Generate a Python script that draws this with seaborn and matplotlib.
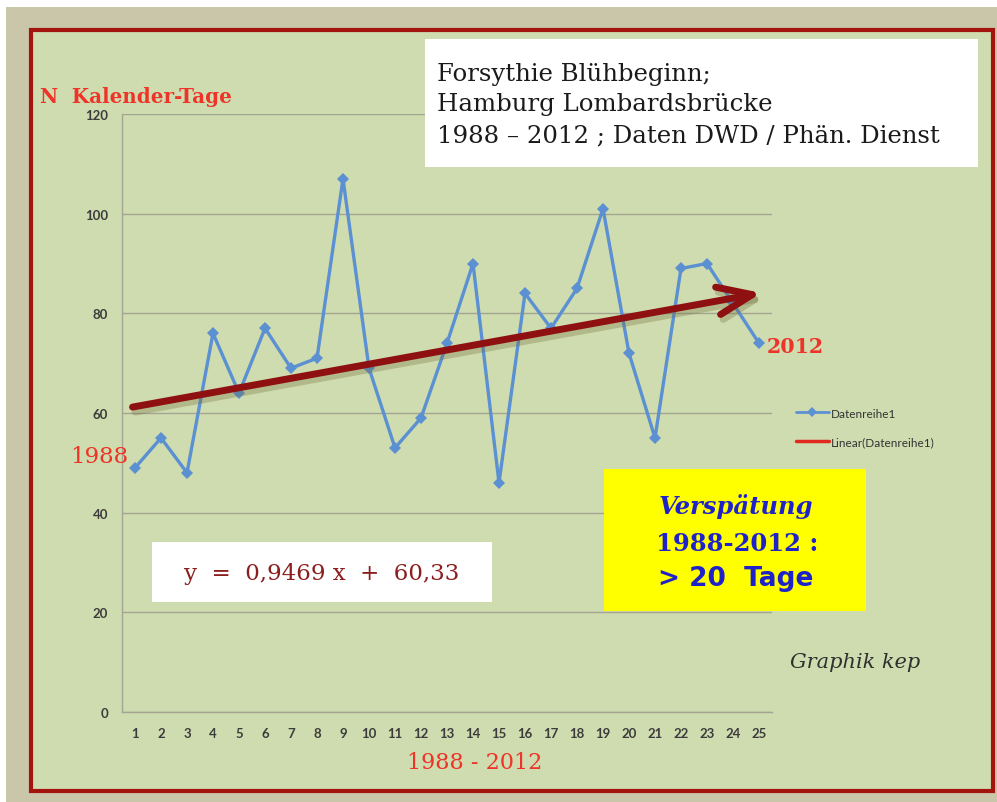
import numpy as np
import pandas as pd
import matplotlib
matplotlib.use('Agg')
import matplotlib.pyplot as plt
import seaborn as sns
from matplotlib.patches import Rectangle
from matplotlib.lines import Line2D

# =============================================================================
# DATEN
# =============================================================================
jahre_idx = list(range(1, 26))
tage = [49, 55, 48, 76, 64, 77, 69, 71, 107, 69, 53, 59, 74, 90, 46,
        84, 77, 85, 101, 72, 55, 89, 90, 82, 74]
steigung = 0.9469
achsenabschnitt = 60.33
y_ticks = [0, 20, 40, 60, 80, 100, 120]

df = pd.DataFrame({'Jahr': jahre_idx, 'Tage': tage})

W, H = 997, 803
def fx(x):
    return x / W
def fy(y):
    return 1 - y / H

sns.set_style('white')
fig = plt.figure(figsize=(W / 100, H / 100), dpi=100, facecolor='white')

# Hintergrund + roter Rahmen
fig.patches.append(Rectangle((fx(6), 0), 1 - fx(6), fy(8), transform=fig.transFigure,
                             facecolor='#C9C6A9', edgecolor='none', zorder=-10))
fig.patches.append(Rectangle((fx(31), fy(792)), fx(993 - 31), (792 - 31) / H,
                             transform=fig.transFigure, facecolor='#CFDCAF',
                             edgecolor='#A3140F', linewidth=3, zorder=-9))

ax = fig.add_axes([fx(122), fy(713), fx(772 - 122), (713 - 115) / H])
ax.set_facecolor('none')

sns.lineplot(data=df, x='Jahr', y='Tage', ax=ax, color='#5B90D2', linewidth=2.4,
             marker='D', markersize=6, markeredgewidth=0, zorder=4,
             label='Datenreihe1', legend=False)

# Trendpfeil
x0, x1 = 0.8, 25.2
for dx, dy, col, a in [(0.1, -1.0, '#6E6A3A', 0.3), (0, 0, '#8E1010', 1)]:
    ax.annotate('', xy=(x1 + dx, steigung * x1 + achsenabschnitt + dy),
                xytext=(x0 + dx, steigung * x0 + achsenabschnitt + dy),
                arrowprops=dict(arrowstyle='->,head_length=2.5,head_width=1.0',
                                color=col, lw=5, alpha=a), zorder=5)

ax.set_xlim(0.5, 25.5)
ax.set_ylim(0, 120)
ax.set_yticks(y_ticks)
ax.set_yticks(np.arange(0, 121, 4), minor=True)
ax.set_xticks(jahre_idx)
ax.set_xticks(np.arange(0.5, 26, 1), minor=True)
ax.set_xticklabels([str(i) for i in jahre_idx])
ax.grid(axis='y', color='#A3A592', linewidth=1.0)
ax.grid(axis='x', visible=False)
ax.tick_params(axis='both', which='major', labelsize=9.5, labelcolor='#3C3C3C', length=0, pad=10)
ax.tick_params(axis='y', which='major', length=4, color='#A3A592', pad=6)
ax.tick_params(axis='both', which='minor', length=3, color='#A3A592', direction='out')
ax.tick_params(axis='x', which='major', pad=11)
for lab in ax.get_xticklabels() + ax.get_yticklabels():
    lab.set_fontweight('bold')
    lab.set_family('Lato')
for s in ['top', 'right']:
    ax.spines[s].set_visible(False)
for s in ['left', 'bottom']:
    ax.spines[s].set_color('#A3A592')
    ax.spines[s].set_linewidth(1.0)
ax.set_xlabel('')
ax.set_ylabel('')

# Legende
handles = [Line2D([], [], color='#5B90D2', lw=2, marker='D', markersize=5, markeredgewidth=0),
           Line2D([], [], color='#E02A20', lw=2.5)]
fig.legend(handles, ['Datenreihe1', 'Linear(Datenreihe1)'], loc='upper left',
           bbox_to_anchor=(fx(785), fy(398)), frameon=False, handlelength=2.8,
           handletextpad=0.2, labelspacing=1.5, prop={'family': 'Lato', 'size': 8.5},
           labelcolor='#333333')

# Texte
serif = 'DejaVu Serif'
fig.patches.append(Rectangle((fx(425), fy(168)), fx(978 - 425), (168 - 40) / H,
                             transform=fig.transFigure, facecolor='white', edgecolor='none'))
for i, t in enumerate(['Forsythie Blühbeginn;', 'Hamburg Lombardsbrücke',
                       '1988 – 2012 ; Daten DWD / Phän. Dienst']):
    fig.text(fx(437), fy(74 + 31 * i), t, family=serif, fontsize=17.6, color='#1A1A1A',
             va='center', ha='left')

fig.text(fx(40), fy(97), 'N  Kalender-Tage', family=serif, fontsize=14.3, color='#EE3328',
         fontweight='bold', va='center', ha='left')
fig.text(fx(70), fy(457), '1988', family=serif, fontsize=16.5, color='#EE3328',
         va='center', ha='left')
fig.text(fx(767), fy(347), '2012', family=serif, fontsize=14.8, color='#EE3328',
         fontweight='bold', va='center', ha='left')
fig.text(fx(475), fy(763), '1988 - 2012', family=serif, fontsize=16, color='#EE3328',
         va='center', ha='center')

fig.patches.append(Rectangle((fx(152), fy(603)), fx(492 - 152), (603 - 543) / H,
                             transform=fig.transFigure, facecolor='white', edgecolor='none'))
fig.text(fx(322), fy(574), 'y  =  0,9469 x  +  60,33', family=serif, fontsize=16.5,
         color='#8B1E1E', va='center', ha='center')

fig.patches.append(Rectangle((fx(604), fy(612)), fx(866 - 604), (612 - 470) / H,
                             transform=fig.transFigure, facecolor='#FFFF00', edgecolor='none'))
fig.text(fx(736), fy(507), 'Verspätung', family=serif, fontsize=17.5, style='italic',
         fontweight='bold', color='#1E22C8', va='center', ha='center')
fig.text(fx(737), fy(544), '1988-2012 :', family=serif, fontsize=17.5,
         fontweight='bold', color='#1E22C8', va='center', ha='center')
fig.text(fx(736), fy(579), '> 20  Tage', family='DejaVu Sans', fontsize=19, fontweight='bold',
         color='#1E22C8', va='center', ha='center')

fig.text(fx(790), fy(663), 'Graphik kep', family=serif, fontsize=15, style='italic',
         color='#303030', va='center', ha='left')

plt.savefig('out.png', dpi=100, facecolor='white')
plt.close()
